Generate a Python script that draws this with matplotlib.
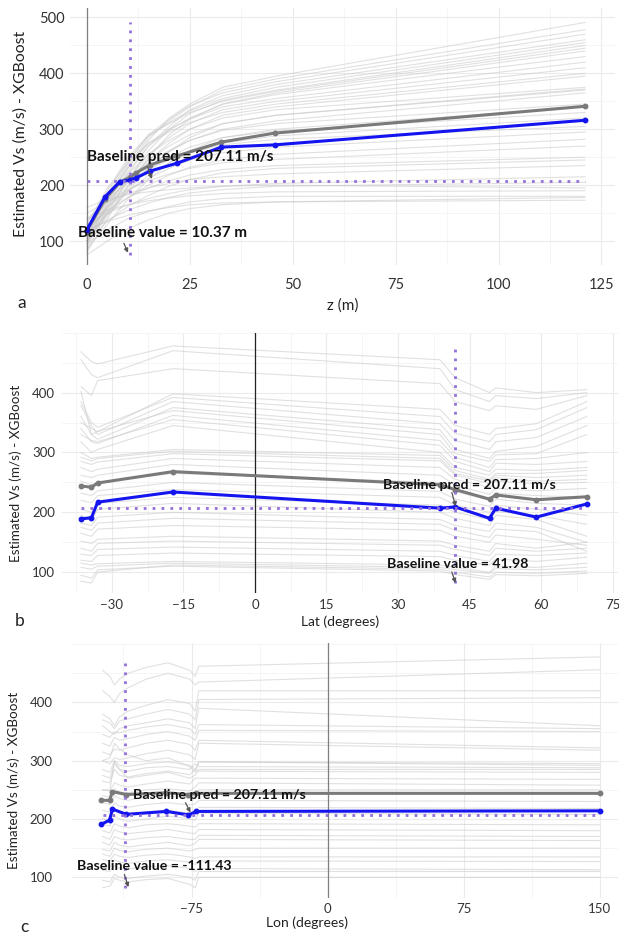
import numpy as np
import matplotlib
matplotlib.use('Agg')
import matplotlib.pyplot as plt
from matplotlib.ticker import MultipleLocator

plt.rcParams['font.family'] = ['Lato', 'DejaVu Sans']

BASELINE_PRED = 207.11

# ---- panel a : depth z (m) ----
Z_GRID = [0, 5, 10, 15, 20, 25, 33, 46, 121]
Z_ICE = [
    [95, 170, 230, 280, 320, 345, 375, 395, 491],
    [100, 175, 235, 285, 315, 340, 370, 390, 478],
    [105, 180, 240, 290, 318, 342, 365, 385, 470],
    [90, 160, 220, 270, 305, 335, 360, 380, 460],
    [110, 185, 245, 288, 312, 333, 355, 375, 455],
    [85, 150, 210, 262, 300, 328, 352, 370, 450],
    [120, 190, 250, 290, 310, 330, 350, 368, 445],
    [80, 140, 200, 250, 290, 318, 345, 365, 440],
    [100, 165, 225, 270, 298, 320, 345, 362, 430],
    [115, 178, 232, 275, 300, 318, 340, 355, 420],
    [95, 155, 210, 255, 285, 310, 335, 350, 410],
    [130, 195, 240, 275, 295, 312, 330, 345, 400],
    [105, 160, 205, 245, 275, 300, 325, 340, 395],
    [120, 175, 220, 255, 280, 300, 320, 335, 375],
    [100, 145, 190, 230, 260, 285, 310, 325, 372],
    [110, 165, 210, 245, 270, 290, 310, 325, 370],
    [100, 150, 195, 232, 260, 280, 300, 315, 365],
    [125, 170, 210, 240, 262, 280, 298, 310, 345],
    [85, 130, 175, 210, 240, 262, 285, 300, 340],
    [115, 160, 198, 228, 250, 268, 285, 297, 330],
    [105, 150, 188, 218, 240, 258, 275, 288, 320],
    [135, 175, 205, 228, 245, 258, 272, 282, 305],
    [120, 160, 190, 212, 230, 245, 258, 268, 295],
    [110, 148, 178, 200, 218, 232, 245, 255, 282],
    [140, 170, 192, 208, 220, 230, 240, 246, 270],
    [125, 155, 178, 195, 208, 218, 228, 235, 250],
    [100, 135, 162, 182, 198, 210, 222, 230, 245],
    [150, 170, 185, 195, 203, 210, 215, 220, 235],
    [130, 150, 165, 176, 185, 192, 198, 203, 215],
    [115, 138, 155, 168, 178, 186, 192, 198, 205],
    [160, 175, 183, 188, 192, 195, 198, 200, 195],
    [140, 155, 165, 172, 177, 181, 185, 188, 190],
    [95, 120, 140, 153, 162, 170, 176, 180, 180],
    [120, 135, 146, 154, 160, 165, 168, 170, 173],
    [75, 100, 122, 138, 150, 158, 165, 170, 178],
]
Z_PTS = [0, 4.4, 8, 10.4, 12, 15.3, 21.8, 32.7, 45.6, 121]
Z_BLUE = [120, 179, 206, 209, 213, 225, 239, 268, 272, 316]
Z_GREY = [118, 175, 205, 214, 222, 236, 252, 277, 293, 341]

# ---- panel b : latitude ----
LAT_GRID = [-36.5, -34.3, -33, -17.2, 38.8, 42, 49.2, 50.5, 59, 69.6]
LAT_ICE = [
    [468, 452, 448, 478, 455, 425, 400, 408, 400, 405],
    [455, 430, 425, 470, 440, 405, 385, 395, 390, 400],
    [410, 395, 420, 440, 415, 385, 370, 378, 372, 395],
    [402, 330, 335, 398, 372, 345, 330, 340, 348, 385],
    [385, 350, 342, 392, 360, 332, 318, 330, 338, 375],
    [378, 345, 330, 385, 348, 320, 305, 318, 325, 360],
    [360, 330, 322, 375, 338, 305, 290, 302, 310, 345],
    [350, 340, 335, 370, 330, 298, 285, 296, 298, 330],
    [340, 318, 315, 362, 320, 292, 275, 288, 290, 300],
    [330, 320, 318, 355, 312, 285, 268, 282, 280, 285],
    [318, 300, 305, 345, 300, 275, 262, 272, 270, 275],
    [300, 290, 292, 305, 295, 270, 255, 265, 265, 270],
    [292, 286, 290, 302, 290, 265, 252, 262, 258, 262],
    [285, 280, 284, 298, 286, 262, 248, 258, 252, 255],
    [275, 268, 272, 290, 275, 255, 242, 252, 248, 250],
    [262, 258, 262, 280, 262, 245, 230, 240, 236, 240],
    [252, 246, 250, 265, 250, 235, 220, 232, 228, 225],
    [232, 228, 236, 250, 235, 222, 210, 222, 215, 212],
    [220, 216, 228, 238, 225, 212, 200, 212, 205, 195],
    [205, 200, 215, 225, 212, 200, 188, 202, 195, 180],
    [195, 188, 205, 215, 200, 190, 178, 195, 188, 160],
    [182, 178, 192, 200, 188, 178, 168, 182, 175, 150],
    [175, 170, 182, 190, 180, 170, 158, 172, 168, 135],
    [165, 160, 172, 178, 170, 160, 150, 162, 155, 145],
    [152, 148, 155, 160, 152, 145, 135, 148, 140, 150],
    [140, 135, 148, 152, 145, 138, 128, 140, 135, 140],
    [130, 128, 138, 142, 135, 128, 118, 130, 128, 132],
    [120, 118, 128, 132, 126, 120, 112, 122, 118, 125],
    [115, 112, 114, 118, 112, 108, 100, 110, 108, 115],
    [108, 105, 110, 115, 108, 104, 98, 106, 104, 108],
    [95, 90, 104, 110, 102, 96, 88, 96, 94, 98],
    [85, 82, 100, 112, 105, 100, 92, 100, 98, 102],
]
LAT_PTS = [-36.5, -34.3, -33, -17.2, 38.8, 42, 49.2, 50.5, 59, 69.6]
LAT_BLUE = [189, 191, 217, 234, 207, 209, 190, 207, 192, 214]
LAT_GREY = [244, 242, 249, 268, 246, 238, 222, 229, 221, 226]

# ---- panel c : longitude ----
LON_GRID = [-124, -120, -117.5, -114.7, -110, -100, -88, -76, -73, -71, 150]
LON_ICE = [
    [455, 445, 430, 440, 450, 460, 468, 455, 445, 462, 478],
    [420, 410, 400, 415, 425, 440, 450, 440, 430, 435, 456],
    [380, 372, 360, 375, 385, 395, 405, 398, 385, 420, 420],
    [370, 365, 355, 368, 372, 380, 388, 380, 370, 405, 408],
    [360, 350, 345, 355, 360, 365, 372, 365, 355, 390, 360],
    [345, 340, 350, 348, 352, 358, 362, 355, 345, 362, 355],
    [330, 325, 340, 335, 338, 345, 350, 342, 335, 352, 350],
    [315, 310, 320, 318, 322, 330, 335, 328, 318, 335, 322],
    [300, 295, 305, 302, 305, 312, 318, 310, 302, 330, 318],
    [300, 305, 330, 320, 310, 300, 305, 290, 280, 298, 295],
    [285, 280, 300, 292, 290, 295, 298, 292, 285, 298, 292],
    [275, 270, 295, 285, 282, 288, 290, 285, 295, 290, 288],
    [250, 250, 300, 285, 270, 275, 280, 270, 275, 285, 285],
    [265, 262, 285, 275, 272, 278, 282, 276, 285, 282, 280],
    [250, 248, 262, 258, 255, 260, 265, 260, 270, 270, 268],
    [240, 238, 252, 246, 245, 250, 252, 248, 255, 262, 258],
    [228, 225, 240, 235, 232, 238, 240, 236, 240, 250, 250],
    [215, 212, 228, 222, 220, 225, 228, 224, 226, 232, 230],
    [200, 198, 215, 210, 208, 212, 215, 210, 212, 220, 218],
    [190, 188, 205, 200, 196, 200, 205, 200, 198, 210, 208],
    [180, 176, 192, 188, 185, 190, 192, 188, 186, 192, 190],
    [170, 165, 182, 178, 175, 178, 182, 176, 175, 182, 180],
    [160, 155, 170, 166, 164, 168, 170, 165, 165, 172, 170],
    [148, 145, 160, 155, 152, 156, 160, 154, 158, 165, 163],
    [140, 136, 150, 146, 144, 148, 150, 145, 148, 150, 150],
    [130, 128, 140, 136, 134, 138, 140, 135, 132, 135, 135],
    [122, 118, 130, 126, 124, 128, 130, 126, 122, 128, 127],
    [112, 110, 120, 116, 114, 118, 120, 115, 110, 115, 113],
    [95, 92, 105, 100, 98, 102, 105, 100, 95, 110, 110],
    [82, 85, 98, 95, 92, 96, 98, 88, 82, 100, 100],
]
LON_PTS = [-124.7, -120.2, -118.6, -110.9, -88.8, -76.7, -72.3, 150]
LON_BLUE = [191, 198, 217, 208, 213, 207, 213, 214]
LON_GREY = [232, 232, 247, 242, 245, 242, 244, 244]

PURPLE = '#9370DB'
BLUE = '#1414f0'
DARK = '#7a7a7a'


def draw_panel(ax, grid, ice, pts, blue, grey, base_val, vline_color):
    # individual conditional expectation curves
    for row in ice:
        ax.plot(grid, row, color='#c8c8c8', lw=0.8, alpha=0.55, zorder=1)
    # vertical reference line at x = 0
    ax.axvline(0, color=vline_color, lw=0.9, zorder=2)
    # average curve and observation curve
    ax.plot(pts, grey, color=DARK, lw=2.2, marker='o', ms=3.2, zorder=4)
    ax.plot(pts, blue, color=BLUE, lw=2.2, marker='o', ms=3.2, zorder=5)
    # baseline markers
    lo = min(min(r) for r in ice)
    hi = max(max(r) for r in ice)
    ax.plot([grid[0], grid[-1]], [BASELINE_PRED, BASELINE_PRED], color=PURPLE,
            lw=2.0, linestyle=(0, (1, 2.2)), zorder=6)
    ax.plot([base_val, base_val], [lo, hi], color=PURPLE,
            lw=2.0, linestyle=(0, (1, 2.2)), zorder=6)

    for s in ax.spines.values():
        s.set_visible(False)
    ax.grid(True, which='major', color='#ebebeb', lw=0.8, zorder=0)
    ax.grid(True, which='minor', color='#f4f4f4', lw=0.6, zorder=0)
    ax.tick_params(which='both', length=0, colors='#333333')
    ax.set_axisbelow(True)


def label(ax, txt_xy, text, tail, tip, size):
    ax.text(txt_xy[0], txt_xy[1], text, fontsize=size, fontweight='bold',
            ha='left', va='center', color='#111111', zorder=8)
    ax.annotate('', xy=tip, xytext=tail, zorder=8,
                arrowprops=dict(arrowstyle='-|>', color='#555555', lw=0.9,
                                mutation_scale=6, shrinkA=0, shrinkB=0))


fig = plt.figure(figsize=(6.19, 9.40), dpi=100)

# panel a
ax1 = fig.add_axes([0.113, 0.718, 0.880, 0.273])
draw_panel(ax1, Z_GRID, Z_ICE, Z_PTS, Z_BLUE, Z_GREY, 10.37, '#808080')
ax1.set_xlim(-4.1, 128.2)
ax1.set_ylim(57, 516)
ax1.xaxis.set_major_locator(MultipleLocator(25))
ax1.xaxis.set_minor_locator(MultipleLocator(12.5))
ax1.yaxis.set_major_locator(MultipleLocator(100))
ax1.yaxis.set_minor_locator(MultipleLocator(50))
ax1.tick_params(axis='x', pad=9, labelsize=10.5)
ax1.tick_params(axis='y', pad=4, labelsize=10.5)
ax1.set_xlabel('z (m)', fontsize=11, color='#222222')
ax1.xaxis.set_label_coords(0.5, -0.128)
ax1.set_ylabel('Estimated Vs (m/s) - XGBoost', fontsize=11.3, color='#222222')
ax1.yaxis.set_label_coords(-0.078, 0.51)
label(ax1, (0, 250), 'Baseline pred = 207.11 m/s', (14.8, 232), (15.8, 211), 11)
label(ax1, (-2.2, 114), 'Baseline value = 10.37 m', (9, 96), (10, 79), 11)

# panel b
ax2 = fig.add_axes([0.100, 0.369, 0.898, 0.277])
draw_panel(ax2, LAT_GRID, LAT_ICE, LAT_PTS, LAT_BLUE, LAT_GREY, 41.98, '#222222')
ax2.set_xlim(-40.5, 76.1)
ax2.set_ylim(65, 500)
ax2.xaxis.set_major_locator(MultipleLocator(15))
ax2.xaxis.set_minor_locator(MultipleLocator(7.5))
ax2.yaxis.set_major_locator(MultipleLocator(100))
ax2.yaxis.set_minor_locator(MultipleLocator(50))
ax2.set_yticks([100, 200, 300, 400])
ax2.tick_params(axis='x', pad=4, labelsize=9.5)
ax2.tick_params(axis='y', pad=5, labelsize=9.5)
ax2.set_xlabel('Lat (degrees)', fontsize=10, color='#222222')
ax2.xaxis.set_label_coords(0.5, -0.085)
ax2.set_ylabel('Estimated Vs (m/s) - XGBoost', fontsize=9.7, color='#222222')
ax2.yaxis.set_label_coords(-0.072, 0.46)
label(ax2, (26.8, 246), 'Baseline pred = 207.11 m/s', (41.3, 233), (42.1, 210), 10.2)
label(ax2, (27.7, 114), 'Baseline value = 41.98', (41.3, 100), (42.1, 82), 10.2)

# panel c
ax3 = fig.add_axes([0.116, 0.045, 0.882, 0.271])
draw_panel(ax3, LON_GRID, LON_ICE, LON_PTS, LON_BLUE, LON_GREY, -111.43, '#808080')
ax3.set_xlim(-141, 160)
ax3.set_ylim(65, 502)
ax3.xaxis.set_major_locator(MultipleLocator(75))
ax3.xaxis.set_minor_locator(MultipleLocator(37.5))
ax3.set_xticks([-75, 0, 75, 150])
ax3.yaxis.set_major_locator(MultipleLocator(100))
ax3.yaxis.set_minor_locator(MultipleLocator(50))
ax3.set_yticks([100, 200, 300, 400])
ax3.tick_params(axis='x', pad=4, labelsize=9.5)
ax3.tick_params(axis='y', pad=14, labelsize=9.5)
ax3.set_xlabel('Lon (degrees)', fontsize=10, color='#222222')
ax3.xaxis.set_label_coords(0.43, -0.072)
ax3.set_ylabel('Estimated Vs (m/s) - XGBoost', fontsize=9.7, color='#222222')
ax3.yaxis.set_label_coords(-0.095, 0.46)
label(ax3, (-107, 242), 'Baseline pred = 207.11 m/s', (-78.3, 228), (-75.6, 211), 10.2)
label(ax3, (-137.9, 119), 'Baseline value = -111.43', (-112, 105), (-109.8, 83), 10.2)

# panel letters
fig.text(22 / 619, 1 - 303 / 940, 'a', fontsize=12.5, ha='center', va='center', color='#222222')
fig.text(20 / 619, 1 - 621 / 940, 'b', fontsize=12.5, ha='center', va='center', color='#222222')
fig.text(24 / 619, 1 - 927 / 940, 'c', fontsize=12.5, ha='center', va='center', color='#222222')

fig.savefig('out.png', dpi=100)
